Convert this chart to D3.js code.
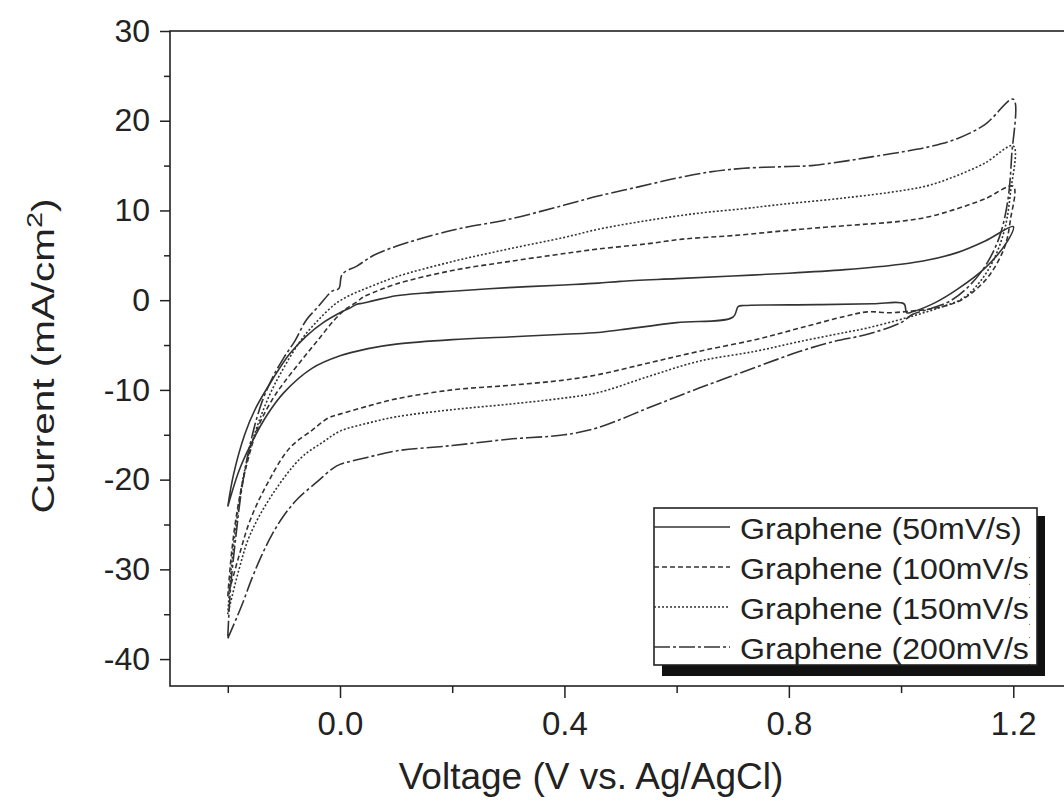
<!DOCTYPE html>
<html>
<head>
<meta charset="utf-8">
<script src="https://cdn.jsdelivr.net/npm/d3@7/dist/d3.min.js"></script>
<style>
  html, body { margin: 0; padding: 0; background: #fff; }
  svg { display: block; font-family: "Liberation Sans", Arial, sans-serif; }
</style>
</head>
<body>
<svg id="chart" width="1064" height="804"></svg>
<script>
// ---------------- data ----------------
const seriesNames = ["Graphene (50mV/s)", "Graphene (100mV/s)", "Graphene (150mV/s)", "Graphene (200mV/s)"];

const volt50 = [-0.2,-0.19,-0.17,-0.15,-0.12,-0.09,-0.06,-0.03,0.0,0.02,0.03,0.04,0.06,0.1,0.15,0.2,0.3,0.4,0.46,0.5,0.6,0.7,0.8,0.9,1.0,1.05,1.1,1.15,1.2,
  1.19,1.15,1.1,1.06,1.02,1.01,1.005,0.95,0.85,0.72,0.71,0.70,0.6,0.5,0.46,0.4,0.3,0.2,0.1,0.05,0.0,-0.05,-0.1,-0.13,-0.16,-0.18,-0.2];
const curr50 = [-23,-19.5,-15,-12,-8.8,-6.0,-4.0,-2.5,-1.4,-0.8,-0.45,-0.35,-0.05,0.5,0.8,1.0,1.4,1.7,1.9,2.1,2.4,2.7,3.0,3.4,4.0,4.5,5.3,6.6,8.2,
  6.6,3.6,1.2,-0.3,-1.3,-1.4,-0.4,-0.4,-0.5,-0.6,-0.7,-1.9,-2.5,-3.3,-3.6,-3.8,-4.1,-4.4,-4.9,-5.4,-6.2,-7.6,-10.3,-12.8,-16.2,-19.0,-23];

const volt100 = [-0.2,-0.193,-0.182,-0.165,-0.145,-0.12,-0.1,-0.07,-0.04,-0.01,0.01,0.03,0.04,0.05,0.1,0.2,0.3,0.4,0.46,0.55,0.61,0.7,0.82,0.9,1.0,1.05,1.1,1.15,1.2,
  1.195,1.185,1.16,1.13,1.1,1.06,1.02,0.98,0.94,0.9,0.82,0.74,0.64,0.55,0.46,0.4,0.3,0.2,0.1,0.05,0.0,-0.02,-0.05,-0.09,-0.13,-0.16,-0.18,-0.2];
const curr100 = [-33,-28,-23,-18,-14,-11,-9.2,-6.8,-4.5,-2.2,-1.0,-0.2,0.3,0.6,1.8,3.3,4.3,5.2,5.7,6.3,6.8,7.2,7.9,8.3,8.8,9.3,10.2,11.3,12.7,
  9.0,6.0,3.0,1.0,-0.2,-0.9,-1.2,-1.4,-1.3,-1.8,-3.1,-4.4,-5.7,-7.0,-8.3,-8.9,-9.5,-10.0,-11.0,-11.8,-12.7,-13.1,-14.5,-16.5,-20.5,-24.5,-28.5,-33];

const volt150 = [-0.2,-0.194,-0.183,-0.17,-0.15,-0.125,-0.1,-0.07,-0.04,-0.01,0.01,0.03,0.05,0.1,0.2,0.3,0.4,0.46,0.55,0.64,0.72,0.79,0.9,1.0,1.05,1.1,1.15,1.2,
  1.195,1.185,1.165,1.14,1.11,1.07,1.03,0.99,0.94,0.9,0.82,0.74,0.64,0.55,0.46,0.4,0.3,0.2,0.1,0.05,0.0,-0.03,-0.07,-0.12,-0.16,-0.18,-0.2];
const curr150 = [-35,-30,-24,-19,-14.5,-10.5,-7.5,-4.5,-2.3,-0.5,0.3,0.9,1.4,2.6,4.3,5.7,7.0,7.9,8.9,9.7,10.2,10.7,11.4,12.2,12.8,13.9,15.3,17.2,
  12,8,4.5,2,0.2,-0.8,-1.6,-2.3,-3.1,-3.6,-4.6,-5.7,-6.8,-8.5,-10.3,-10.9,-11.6,-12.2,-13.0,-13.7,-14.6,-15.8,-17.6,-21.6,-26.1,-30,-35];

const volt200 = [-0.2,-0.195,-0.185,-0.175,-0.16,-0.14,-0.12,-0.1,-0.08,-0.06,-0.04,-0.014,-0.002,0.004,0.03,0.06,0.1,0.2,0.3,0.4,0.46,0.53,0.6,0.66,0.72,0.8,0.84,0.9,0.95,1.0,1.05,1.1,1.15,1.2,
  1.197,1.19,1.175,1.15,1.12,1.09,1.05,1.02,1.0,0.94,0.88,0.82,0.74,0.64,0.55,0.46,0.4,0.3,0.2,0.1,0.05,0.0,-0.014,-0.04,-0.075,-0.1,-0.121,-0.14,-0.157,-0.175,-0.2];
const curr200 = [-37.5,-32,-26,-21,-16,-11.5,-8.6,-6.4,-4.5,-2.2,-0.8,1.0,1.3,2.9,3.8,5.0,6.0,7.8,9.0,10.6,11.6,12.6,13.6,14.3,14.7,14.9,15.0,15.5,16.0,16.5,17.1,18.0,19.6,22.4,
  16,11,7,3.8,1.5,0,-1.0,-1.6,-2.5,-3.8,-4.6,-5.7,-7.5,-9.8,-12.0,-14.2,-15.0,-15.5,-16.2,-16.8,-17.5,-18.3,-18.8,-20.2,-22.1,-24.0,-26.1,-28.5,-31,-34,-37.7];

const yMajorTicks = [-40,-30,-20,-10,0,10,20,30];
const yMinorTicks = [-35,-25,-15,-5,5,15,25];
const xMajorTicks = [0.0,0.4,0.8,1.2];
const xMinorTicks = [-0.2,0.2,0.6,1.0];

// ---------------- layout ----------------
const svg = d3.select("#chart");
const pLeft = 170, pTop = 31, pBottom = 686, pRight = 1075;
const x = d3.scaleLinear().domain([-0.303, 1.31]).range([pLeft, pRight]);
const y = d3.scaleLinear().domain([-43.0, 30]).range([pBottom, pTop]);

const ink = "#222";
const lineInk = "#333";
const defs = svg.append("defs");

// frame (top + left + bottom; right edge lies off-canvas)
svg.append("rect")
  .attr("x", pLeft).attr("y", pTop)
  .attr("width", pRight - pLeft).attr("height", pBottom - pTop)
  .attr("fill", "none").attr("stroke", ink).attr("stroke-width", 1.6);

// Axes via d3
const yAxis = d3.axisLeft(y).tickValues(yMajorTicks).tickSize(10).tickPadding(10).tickFormat(d => String(d));
const gy = svg.append("g").attr("transform", `translate(${pLeft},0)`).call(yAxis);
gy.select(".domain").remove();
gy.selectAll("line").attr("stroke", ink).attr("stroke-width", 1.5);
gy.selectAll("text").attr("font-size", 32).attr("fill", "#222").attr("font-family", "Liberation Sans, Arial, sans-serif");

const yAxisMinor = d3.axisLeft(y).tickValues(yMinorTicks).tickSize(6).tickFormat("");
const gym = svg.append("g").attr("transform", `translate(${pLeft},0)`).call(yAxisMinor);
gym.select(".domain").remove();
gym.selectAll("line").attr("stroke", ink).attr("stroke-width", 1.5);

const xAxis = d3.axisBottom(x).tickValues(xMajorTicks).tickSize(12).tickPadding(14).tickFormat(d3.format(".1f"));
const gx = svg.append("g").attr("transform", `translate(0,${pBottom})`).call(xAxis);
gx.select(".domain").remove();
gx.selectAll("line").attr("stroke", ink).attr("stroke-width", 1.5);
gx.selectAll("text").attr("font-size", 33).attr("fill", "#222").attr("font-family", "Liberation Sans, Arial, sans-serif");

const xAxisMinor = d3.axisBottom(x).tickValues(xMinorTicks).tickSize(7).tickFormat("");
const gxm = svg.append("g").attr("transform", `translate(0,${pBottom})`).call(xAxisMinor);
gxm.select(".domain").remove();
gxm.selectAll("line").attr("stroke", ink).attr("stroke-width", 1.5);

// ---------------- curves ----------------
const dashes = [null, "5,3", "2,2", "16,3,3,3"];
const series = [
  { v: volt50, i: curr50 },
  { v: volt100, i: curr100 },
  { v: volt150, i: curr150 },
  { v: volt200, i: curr200 }
];
const line = d3.line()
  .x(d => x(d[0])).y(d => y(d[1]))
  .curve(d3.curveCatmullRom.alpha(0.5));

defs.append("clipPath").attr("id", "plotclip")
  .append("rect").attr("x", pLeft).attr("y", pTop).attr("width", pRight - pLeft).attr("height", pBottom - pTop);

const gCurves = svg.append("g").attr("clip-path", "url(#plotclip)");
series.forEach((s, k) => {
  const pts = s.v.map((v, j) => [v, s.i[j]]);
  gCurves.append("path")
    .attr("d", line(pts))
    .attr("fill", "none")
    .attr("stroke", lineInk)
    .attr("stroke-width", 1.6)
    .attr("stroke-dasharray", dashes[k]);
});

// ---------------- legend ----------------
const lg = { x: 654, y: 508, w: 383, h: 157 };
svg.append("rect").attr("x", lg.x + 8).attr("y", lg.y + 8).attr("width", lg.w).attr("height", lg.h + 3).attr("fill", "#111");
svg.append("rect").attr("x", lg.x).attr("y", lg.y).attr("width", lg.w).attr("height", lg.h)
  .attr("fill", "#fff").attr("stroke", ink).attr("stroke-width", 1.6);
defs.append("clipPath").attr("id", "legclip")
  .append("rect").attr("x", lg.x).attr("y", lg.y).attr("width", lg.w - 7).attr("height", lg.h);
const gLeg = svg.append("g").attr("clip-path", "url(#legclip)");
seriesNames.forEach((name, k) => {
  const ly = 527 + k * 40;
  gLeg.append("line").attr("x1", lg.x).attr("x2", 730).attr("y1", ly).attr("y2", ly)
    .attr("stroke", lineInk).attr("stroke-width", 1.6).attr("stroke-dasharray", dashes[k]);
  gLeg.append("text").attr("transform", `translate(740,${ly + 12}) scale(1.07,1)`)
    .attr("font-size", 30).attr("fill", "#222").text(name);
});

// ---------------- titles ----------------
svg.append("text")
  .attr("transform", `translate(591,789)`)
  .attr("text-anchor", "middle").attr("font-size", 37).attr("fill", "#222")
  .text("Voltage (V vs. Ag/AgCl)");

const yt = svg.append("text")
  .attr("text-anchor", "middle").attr("font-size", 31).attr("fill", "#222");
yt.append("tspan").text("Current (mA/cm");
yt.append("tspan").attr("dy", -12).attr("font-size", 22).text("2");
yt.append("tspan").attr("dy", 12).text(")");
const ytw = yt.node().getComputedTextLength();
const ysx = 315 / ytw;
yt.attr("transform", `translate(54,356) rotate(-90) scale(${ysx},1)`);
</script>
</body>
</html>
